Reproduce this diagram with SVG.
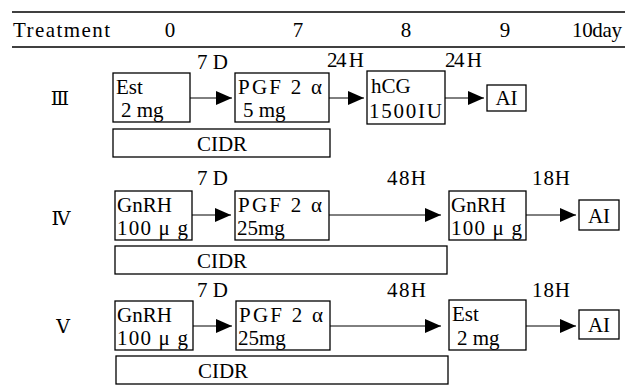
<svg xmlns="http://www.w3.org/2000/svg" width="628" height="388" viewBox="0 0 628 388">
<defs>
<style>
text{font-family:"Liberation Serif","Noto Sans CJK JP",serif;font-size:21px;fill:#000}
.rn{font-family:"DejaVu Serif","Liberation Serif","Noto Sans CJK JP",serif;font-size:19px}
.box{fill:#fff;stroke:#000;stroke-width:1.3}
.rule{stroke:#000;stroke-width:1.6}
.arr{stroke:#000;stroke-width:1;fill:none;marker-end:url(#ah)}
.c{text-anchor:middle}
</style>
<marker id="ah" viewBox="0 0 16 14" refX="16" refY="7" markerWidth="16" markerHeight="14" markerUnits="userSpaceOnUse" orient="auto">
<path d="M0,0 L16,7 L0,14 z" fill="#000"/>
</marker>
</defs>
<rect width="628" height="388" fill="#fff"/>

<g id="header">
<line class="rule" x1="12" y1="12" x2="625" y2="12"/>
<line class="rule" x1="12" y1="47" x2="625" y2="47"/>
<text x="13" y="37" textLength="97" lengthAdjust="spacing">Treatment</text>
<text x="170" y="37" class="c">0</text>
<text x="298" y="37" class="c">7</text>
<text x="406" y="37" class="c">8</text>
<text x="505" y="37" class="c">9</text>
<text x="572" y="37" textLength="50" lengthAdjust="spacing">10day</text>
</g>

<g id="row-labels">
<text class="rn c" x="60" y="105">Ⅲ</text>
<text class="rn c" x="61" y="225">Ⅳ</text>
<text class="rn c" x="63" y="333">Ⅴ</text>
</g>

<g id="interval-labels">
<text x="197" y="69" textLength="31" lengthAdjust="spacing">7 D</text>
<text x="327" y="67" textLength="37" lengthAdjust="spacing">24 H</text>
<text x="445" y="67" textLength="37" lengthAdjust="spacing">24 H</text>
<text x="197" y="185" textLength="31" lengthAdjust="spacing">7 D</text>
<text x="387" y="185" textLength="39" lengthAdjust="spacing">48H</text>
<text x="532" y="185" textLength="38" lengthAdjust="spacing">18H</text>
<text x="197" y="297" textLength="31" lengthAdjust="spacing">7 D</text>
<text x="387" y="297" textLength="39" lengthAdjust="spacing">48H</text>
<text x="532" y="297" textLength="38" lengthAdjust="spacing">18H</text>
</g>

<g id="connectors">
<line class="arr" x1="190" y1="98" x2="232" y2="98"/>
<line class="arr" x1="329" y1="98" x2="364" y2="98"/>
<line class="arr" x1="445" y1="98" x2="484" y2="98"/>
<line class="arr" x1="192" y1="215" x2="231" y2="215"/>
<line class="arr" x1="329" y1="215" x2="441" y2="215"/>
<line class="arr" x1="526" y1="215" x2="576" y2="215"/>
<line class="arr" x1="193" y1="326" x2="232" y2="326"/>
<line class="arr" x1="330" y1="326" x2="441" y2="326"/>
<line class="arr" x1="526" y1="326" x2="576" y2="326"/>
</g>

<g id="III-est">
<rect class="box" x="113" y="73" width="77" height="49"/>
<text x="116" y="94">Est</text>
<text x="121" y="117">2 mg</text>
</g>
<g id="III-pgf">
<rect class="box" x="235" y="73" width="94" height="49"/>
<text x="238" y="94" textLength="84" lengthAdjust="spacing">PGF 2 α</text>
<text x="243" y="117">5 mg</text>
</g>
<g id="III-hcg">
<rect class="box" x="367" y="71" width="78" height="53"/>
<text x="371" y="93">hCG</text>
<text x="369" y="118" textLength="73" lengthAdjust="spacing">1500IU</text>
</g>
<g id="III-ai">
<rect class="box" x="487" y="85" width="39" height="26"/>
<text x="506.5" y="105" class="c">AI</text>
</g>
<g id="III-cidr">
<rect class="box" x="113" y="129" width="217" height="28"/>
<text x="197" y="151" textLength="50" lengthAdjust="spacing">CIDR</text>
</g>

<g id="IV-gnrh1">
<rect class="box" x="115" y="191" width="77" height="49"/>
<text x="117" y="212">GnRH</text>
<text x="117" y="235" textLength="71" lengthAdjust="spacing">100 μ g</text>
</g>
<g id="IV-pgf">
<rect class="box" x="235" y="191" width="94" height="49"/>
<text x="238" y="212" textLength="84" lengthAdjust="spacing">PGF 2 α</text>
<text x="237" y="235">25mg</text>
</g>
<g id="IV-gnrh2">
<rect class="box" x="449" y="191" width="77" height="49"/>
<text x="451" y="212">GnRH</text>
<text x="451" y="235" textLength="71" lengthAdjust="spacing">100 μ g</text>
</g>
<g id="IV-ai">
<rect class="box" x="579" y="200" width="40" height="30"/>
<text x="599" y="223" class="c">AI</text>
</g>
<g id="IV-cidr">
<rect class="box" x="115" y="246" width="332" height="28"/>
<text x="197" y="268" textLength="50" lengthAdjust="spacing">CIDR</text>
</g>

<g id="V-gnrh">
<rect class="box" x="115" y="301" width="78" height="49"/>
<text x="117" y="322">GnRH</text>
<text x="117" y="345" textLength="71" lengthAdjust="spacing">100 μ g</text>
</g>
<g id="V-pgf">
<rect class="box" x="236" y="301" width="94" height="49"/>
<text x="239" y="322" textLength="84" lengthAdjust="spacing">PGF 2 α</text>
<text x="238" y="345">25mg</text>
</g>
<g id="V-est">
<rect class="box" x="449" y="300" width="77" height="50"/>
<text x="452" y="321">Est</text>
<text x="457" y="345">2 mg</text>
</g>
<g id="V-ai">
<rect class="box" x="579" y="310" width="40" height="29"/>
<text x="599" y="332" class="c">AI</text>
</g>
<g id="V-cidr">
<rect class="box" x="116" y="356" width="332" height="28"/>
<text x="198" y="378" textLength="50" lengthAdjust="spacing">CIDR</text>
</g>
</svg>
